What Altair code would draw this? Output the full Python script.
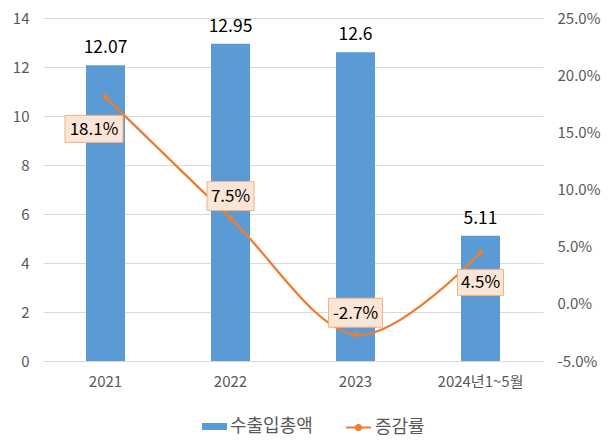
import altair as alt
import pandas as pd

categories = ["2021", "2022", "2023", "2024년1~5월"]
totals = [12.07, 12.95, 12.6, 5.11]
rates = [0.181, 0.075, -0.027, 0.045]
series_names = ["수출입총액", "증감률"]

df = pd.DataFrame({"cat": categories, "total": totals, "rate": rates,
                   "s1": series_names[0], "s2": series_names[1]})

BLUE = "#5B9BD5"
ORANGE = "#ED7D31"
GRID = "#D9D9D9"
LABEL = "#595959"
FONT = "Noto Sans CJK KR"

x = alt.X("cat:N", sort=categories, title=None,
          scale=alt.Scale(paddingInner=0, paddingOuter=0),
          axis=alt.Axis(labelAngle=0, ticks=False, domain=True, domainColor=GRID,
                        labelColor=LABEL, labelFontSize=15, labelPadding=13, labelFont=FONT))

yl = alt.Y("total:Q", title=None,
           scale=alt.Scale(domain=[0, 14], nice=False, zero=True),
           axis=alt.Axis(values=[0, 2, 4, 6, 8, 10, 12, 14], orient="left", ticks=False,
                         domain=False, grid=True, gridColor=GRID, labelColor=LABEL,
                         labelFontSize=15, labelPadding=14, labelFont=FONT))

yr = alt.Y("rate:Q", title=None,
           scale=alt.Scale(domain=[-0.05, 0.25], nice=False, zero=False),
           axis=alt.Axis(values=[-0.05, 0, 0.05, 0.10, 0.15, 0.20, 0.25], orient="right",
                         ticks=False, domain=False, grid=False, labelColor=LABEL,
                         labelFontSize=15, labelPadding=14, labelFont=FONT,
                         labelExpr="replace(format(datum.value, '.1%'), '\u2212', '-')"))

base = alt.Chart(df)

bar_path = "M-1,-0.28H1V0.28H-1Z"
bars = base.mark_bar(width=39, color=BLUE).encode(
    x=x, y=yl,
    color=alt.Color("s1:N", scale=alt.Scale(domain=[series_names[0]], range=[BLUE]),
                    legend=alt.Legend(title=None, orient="none", legendX=159, legendY=396,
                                      symbolType=bar_path, symbolSize=625, symbolStrokeWidth=0,
                                      labelFontSize=18, labelColor=LABEL, labelFont=FONT,
                                      padding=0, labelOffset=3)))
bar_text = base.mark_text(baseline="alphabetic", dy=-12, fontSize=17.5, font=FONT,
                          color="black").encode(x=x, y=yl, text=alt.Text("total:Q"))
left = alt.layer(bars, bar_text)

line_path = ("M-1,0H1M-0.2,0A0.2,0.2,0,1,1,0.2,0A0.2,0.2,0,1,1,-0.2,0Z")
line = base.mark_line(interpolate="cardinal", strokeWidth=2.25, color=ORANGE).encode(
    x=x, y=yr,
    stroke=alt.Stroke("s2:N", scale=alt.Scale(domain=[series_names[1]], range=[ORANGE]),
                      legend=alt.Legend(title=None, orient="none", legendX=302, legendY=396,
                                        symbolType=line_path, symbolSize=625,
                                        symbolStrokeWidth=2, symbolFillColor=ORANGE,
                                        labelFontSize=18, labelColor=LABEL, labelFont=FONT,
                                        padding=0, labelOffset=3)))
pts = base.mark_point(filled=True, size=30, color=ORANGE, opacity=1).encode(x=x, y=yr)

label_base = base.transform_calculate(
    lbl="replace(format(datum.rate, '.1%'), '\u2212', '-')")

# label box placement (pixel offsets from the point) and box widths
place = {
    "2021": (-11.5, 32, 58, 27),
    "2022": (0, -22, 47, 29),
    "2023": (0, -22, 54, 29),
    "2024년1~5월": (0, 30, 46, 26),
}
label_layers = []
for c in categories:
    dx, dy, w, h = place[c]
    hh = h / w
    path = f"M-1,-{hh:.3f}H1V{hh:.3f}H-1Z"
    sub = label_base.transform_filter(alt.datum.cat == c)
    box = sub.mark_point(shape=path, size=w * w, filled=True, fill="#FBE5D6",
                         stroke="#F4B183", strokeWidth=1, opacity=1,
                         xOffset=dx, yOffset=dy).encode(x=x, y=yr)
    txt = sub.mark_text(dx=dx, dy=dy + 1, fontSize=17, font=FONT, color="black",
                        baseline="middle").encode(x=x, y=yr, text="lbl:N")
    label_layers += [box, txt]

right = alt.layer(line, pts, *label_layers)

chart = alt.layer(left, right).resolve_scale(
    y="independent", color="independent", stroke="independent"
).properties(
    width=500, height=343,
    autosize=alt.AutoSizeParams(type="none"),
    padding={"left": 35, "top": 10, "right": 59, "bottom": 79},
).configure_view(stroke=None)

chart.save("out.html", embed_options={"renderer": "svg", "actions": False})
